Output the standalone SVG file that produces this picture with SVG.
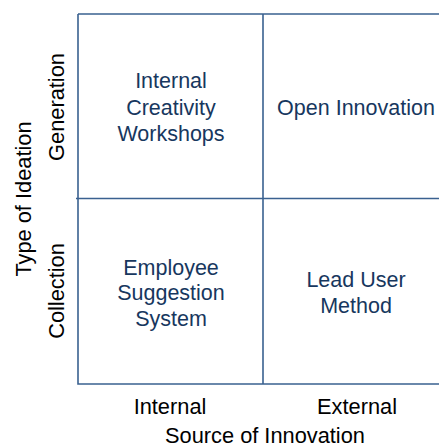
<svg xmlns="http://www.w3.org/2000/svg" width="439" height="448" viewBox="0 0 439 448">
<style>
.cell{font-family:"Liberation Sans",Arial,sans-serif;font-size:21.5px;fill:#17375e;text-anchor:middle}
.axis{font-family:"Liberation Sans",Arial,sans-serif;font-size:21.8px;fill:#000;text-anchor:middle}
.ln{stroke:#3a6190;stroke-width:1.6;fill:none}
</style>
<rect width="439" height="448" fill="#fff"/>
<g id="connectors">
<path class="ln" d="M78 14H439M78 14V384H439M263 14V384M76 198.5H439"/>
</g>
<g id="cell-internal-generation"><text class="cell"><tspan x="171" y="88">Internal</tspan><tspan x="171" y="115">Creativity</tspan><tspan x="171" y="141">Workshops</tspan></text></g>
<g id="cell-external-generation"><text class="cell" x="356" y="115">Open Innovation</text></g>
<g id="cell-internal-collection"><text class="cell"><tspan x="171" y="275">Employee</tspan><tspan x="171" y="300">Suggestion</tspan><tspan x="171" y="326">System</tspan></text></g>
<g id="cell-external-collection"><text class="cell"><tspan x="356" y="287">Lead User</tspan><tspan x="356" y="313">Method</tspan></text></g>
<g id="axis-labels">
<text class="axis" x="170" y="414">Internal</text>
<text class="axis" x="357" y="414">External</text>
<text class="axis" x="265" y="443">Source of Innovation</text>
<text class="axis" transform="translate(31 199) rotate(-90)">Type of Ideation</text>
<text class="axis" transform="translate(64 107) rotate(-90)">Generation</text>
<text class="axis" transform="translate(64 291) rotate(-90)">Collection</text>
</g>
</svg>
